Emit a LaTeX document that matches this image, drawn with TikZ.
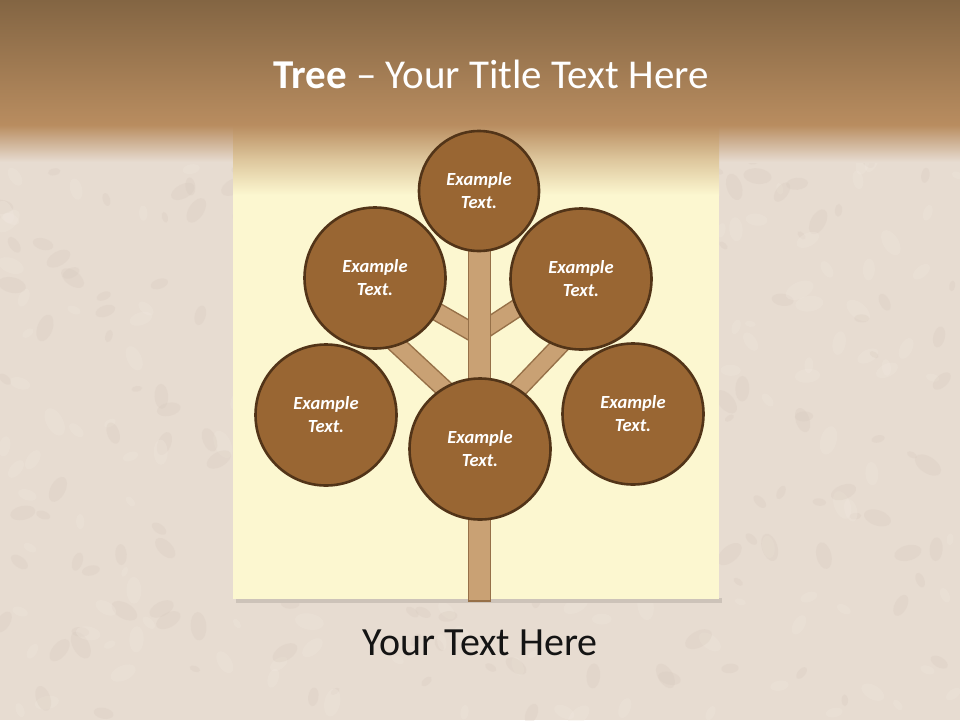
\documentclass[tikz,border=0pt]{standalone}
\usepackage{fontspec}
\setmainfont{Carlito}
\definecolor{cork}{RGB}{231,220,209}
\definecolor{corkdark}{RGB}{214,200,188}
\definecolor{corklight}{RGB}{240,231,222}
\definecolor{bandtop}{RGB}{131,101,67}
\definecolor{bandbot}{RGB}{185,141,96}
\definecolor{note}{RGB}{252,247,208}
\definecolor{circfill}{RGB}{153,102,51}
\definecolor{circline}{RGB}{82,52,24}
\definecolor{woodfill}{RGB}{201,161,116}
\definecolor{woodline}{RGB}{150,112,72}
\definecolor{shadowc}{RGB}{205,195,185}
\tikzset{
  leaf/.style={circle, draw=circline, line width=2.6pt, fill=circfill, minimum size=#1, inner sep=0pt,
    text=white, font=\fontsize{18.5}{23}\selectfont\bfseries\itshape, align=center},
  branchedge/.style={draw=woodline, line width=19pt},
  branchfill/.style={draw=woodfill, line width=16pt},
}
\begin{document}
\begin{tikzpicture}[x=1pt,y=-1pt]
\useasboundingbox (0,0) rectangle (960,720);
% background
\fill[cork] (0,0) rectangle (960,720);
\pgfmathsetseed{7}
\foreach \i in {1,...,420}{
  \pgfmathsetmacro{\px}{rnd*960}
  \pgfmathsetmacro{\py}{130+rnd*590}
  \pgfmathsetmacro{\pr}{5+rnd*10}
  \pgfmathsetmacro{\pa}{rnd*180}
  \pgfmathsetmacro{\pc}{rnd}
  \ifdim\pc pt<0.5pt
    \fill[corkdark, opacity=0.25, rotate around={\pa:(\px,\py)}] (\px,\py) ellipse ({\pr} and {0.55*\pr});
  \else
    \fill[corklight, opacity=0.3, rotate around={\pa:(\px,\py)}] (\px,\py) ellipse ({\pr} and {0.55*\pr});
  \fi
}
% note shadow and note
\fill[shadowc] (236,598) rectangle (722,603);
\fill[note] (233,130) rectangle (719,599);
% band
\shade[top color=bandtop, bottom color=bandbot] (0,0) rectangle (960,126);
\shade[top color=bandbot, bottom color=cork] (0,125) rectangle (233,162);
\shade[top color=bandbot, bottom color=cork] (719,125) rectangle (960,162);
\shade[top color=bandbot, bottom color=note, middle color=note!55!bandbot] (233,125) rectangle (719,195);
% title
\node (title) at (491,74) {\fontsize{41}{48}\selectfont\color{white}\textbf{Tree} – Your Title Text Here};
% branch end points
\coordinate (j1) at (479,336);
\coordinate (j2) at (479,333);
\coordinate (j3) at (480,422);
\coordinate (j4) at (480,429);
\coordinate (e1) at (420,302);
\coordinate (e2) at (560,280);
\coordinate (e3) at (380,329);
\coordinate (e4) at (585,319);
% branches
\foreach \a/\b in {j1/e1, j2/e2, j3/e3, j4/e4}{
  \draw[branchedge] (\a) -- (\b);
}
\foreach \a/\b in {j1/e1, j2/e2, j3/e3, j4/e4}{
  \draw[branchfill] (\a) -- (\b);
}
% trunk
\node[draw=woodline, line width=1.5pt, fill=woodfill, minimum width=22pt, minimum height=356pt, inner sep=0pt] (trunk) at (479.5,423) {};
% circles
\node[leaf=120pt] (top) at (479,191) {Example\\Text.};
\node[leaf=141pt] (ul) at (375,278) {Example\\Text.};
\node[leaf=141pt] (ur) at (581,279) {Example\\Text.};
\node[leaf=141pt] (ll) at (326,415) {Example\\Text.};
\node[leaf=141pt] (lr) at (633,414) {Example\\Text.};
\node[leaf=141pt] (bc) at (480,449) {Example\\Text.};
% bottom text
\node (foot) at (480,643) {\fontsize{40}{46}\selectfont\color[RGB]{20,20,20}Your Text Here};
\end{tikzpicture}
\end{document}
